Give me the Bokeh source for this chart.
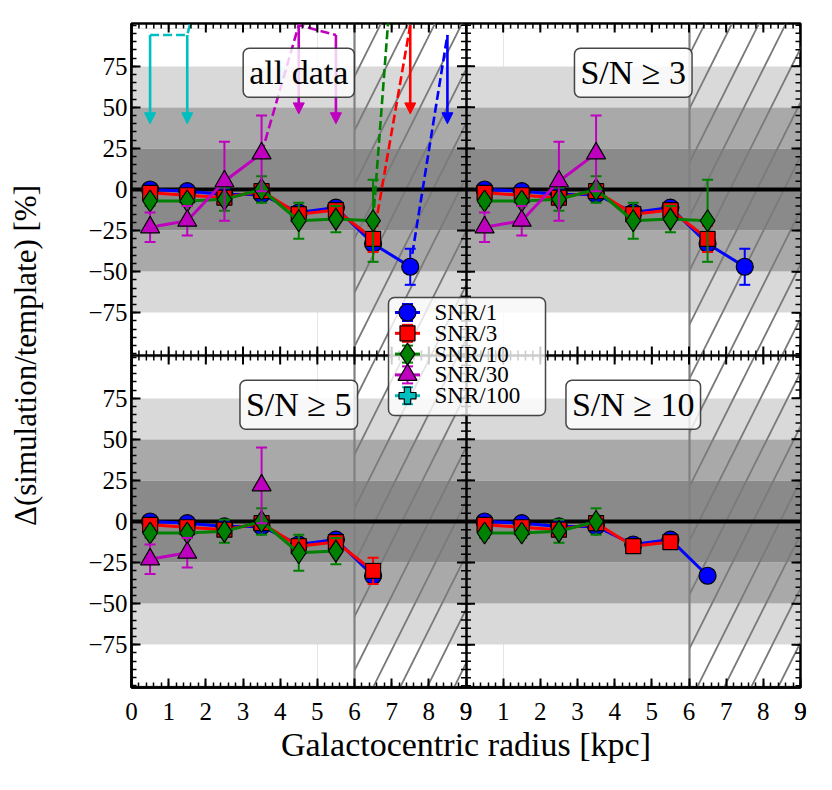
import math
from bokeh.plotting import figure
from bokeh.models import (Range1d, FixedTicker, LinearAxis, Label, Arrow, NormalHead)
from bokeh.core.properties import value
from bokeh.embed import file_html
from bokeh.resources import INLINE

NAN = float("nan")

# ---------------- data ----------------
R_BINS = [0.5, 1.5, 2.5, 3.5, 4.5, 5.5, 6.5, 7.5]

SNR1 = [0, -1, -3, -3, -14, -11, -33, -47]
SNR1_ERR = [2, 2, 2, 3, 3, 3, 3, 11]
SNR3 = [-2, -3.5, -5, -1, -15, -12.5, -30]
SNR3_ERR = [2, 2, 2, 2, 3, 3, 8]
SNR10 = [-7, -7, -6, 0, -19, -18, -19]
SNR10_ERR = [3, 3, 7, 8, 11, 8, 25]
SNR30 = [-23, -19, 5, 22]
SNR30_ERR = [9, 9, 24, 23]
SNR100 = []
SNR100_ERR = []

PANEL_TITLES = ["all data", "S/N \u2265 3", "S/N \u2265 5", "S/N \u2265 10"]

# indices of the radial bins shown in each panel
SHOWN_SNR1 = [[0, 1, 2, 3, 4, 5, 6, 7], [0, 1, 2, 3, 4, 5, 6, 7], [0, 1, 2, 3, 4, 5, 6], [0, 1, 2, 3, 4, 5, 6]]
SHOWN_SNR3 = [[0, 1, 2, 3, 4, 5, 6], [0, 1, 2, 3, 4, 5, 6], [0, 1, 2, 3, 4, 5, 6], [0, 1, 2, 3, 4, 5]]
SHOWN_SNR10 = [[0, 1, 2, 3, 4, 5, 6], [0, 1, 2, 3, 4, 5, 6], [0, 1, 2, 3, 4, 5], [0, 1, 2, 3]]
SHOWN_SNR30 = [[0, 1, 2, 3], [0, 1, 2, 3], [0, 1, 3], []]
SHOWN_SNR100 = [[], [], [], []]

# off-scale values in the "all data" panel (dashed continuation + arrows)
LIM_R_SNR1, LIM_V_SNR1 = [8.5], [94]
LIM_R_SNR3, LIM_V_SNR3 = [7.5], [100]
LIM_R_SNR10, LIM_V_SNR10 = [7.5], [280]
LIM_R_SNR30, LIM_V_SNR30 = [4.5, 5.5], [100, 94]
LIM_R_SNR100, LIM_V_SNR100 = [0.5, 1.5, 2.5], [94, 94, 180]

BAND_LIGHT = [(50, 75), (-75, -50)]
BAND_MID = [(25, 50), (-50, -25)]
BAND_DARK = [(-25, 25)]
HATCH_FROM = 6.0

X_TICKS = list(range(0, 10))
Y_TICKS = [-75, -50, -25, 0, 25, 50, 75]

# ---------------- layout constants ----------------
XW = 9.0       # width of a panel in kpc
YH = 202.0     # height of a panel in %
YLIM = 101.0
FONT = "Liberation Serif"
FW, FH = 669, 664   # frame size in px


def offs(k):
    col, row = k % 2, k // 2
    return XW * col, YH * (1 - row)


def px2x(px):      # frame-relative px (from left) -> data x
    return px * (2 * XW) / FW


def px2y(px):      # frame-relative px (from top) -> data y
    return (YH + YLIM) - px * (YH + 2 * YLIM) / FH


SERIES = [
    ("SNR/1", SNR1, SNR1_ERR, SHOWN_SNR1, LIM_R_SNR1, LIM_V_SNR1, "#0000ff", "circle", 17),
    ("SNR/3", SNR3, SNR3_ERR, SHOWN_SNR3, LIM_R_SNR3, LIM_V_SNR3, "#ff0000", "square", 15),
    ("SNR/10", SNR10, SNR10_ERR, SHOWN_SNR10, LIM_R_SNR10, LIM_V_SNR10, "#008000", "diamond", 22),
    ("SNR/30", SNR30, SNR30_ERR, SHOWN_SNR30, LIM_R_SNR30, LIM_V_SNR30, "#bf00bf", "triangle", 19),
    ("SNR/100", SNR100, SNR100_ERR, SHOWN_SNR100, LIM_R_SNR100, LIM_V_SNR100, "#00bfbf", "plus", 17),
]

p = figure(frame_width=FW, frame_height=FH,
           x_range=Range1d(0, 2 * XW), y_range=Range1d(-YLIM, YH + YLIM),
           x_axis_location=None, y_axis_location=None,
           output_backend="svg", toolbar_location=None,
           min_border_left=131, min_border_right=22, min_border_top=23, min_border_bottom=80,
           background_fill_color="white", border_fill_color="white")
p.outline_line_color = "black"
p.outline_line_width = 2.5
p.outline_line_alpha = 1.0

# ---------------- backgrounds ----------------
for bands, col in ((BAND_LIGHT, "#d9d9d9"), (BAND_MID, "#a9a9a9"), (BAND_DARK, "#8a8a8a")):
    y0 = [a + YH * r for r in (0, 1) for a, b in bands]
    y1 = [b + YH * r for r in (0, 1) for a, b in bands]
    p.hstrip(y0=y0, y1=y1, fill_color=col, line_color=None)

p.vstrip(x0=[HATCH_FROM, HATCH_FROM + XW], x1=[XW, 2 * XW], fill_color=None, line_color=None,
         hatch_pattern="/", hatch_color="#7a7a7a", hatch_weight=1.8, hatch_scale=54, hatch_alpha=1.0)
p.vspan(x=[HATCH_FROM, HATCH_FROM + XW], line_color="#808080", line_width=2.2)
p.hspan(y=[0, YH], line_color="black", line_width=4)

# ---------------- data ----------------
arrows = []
for name, vals, errs, shown, lim_r, lim_v, color, marker, msize in SERIES:
    xs, ys = [], []
    ex, ey0, ey1 = [], [], []
    for k in range(4):
        xo, yo = offs(k)
        for i in range(len(vals)):
            if i in shown[k]:
                x, y = R_BINS[i] + xo, vals[i] + yo
                xs.append(x); ys.append(y)
                ex.append(x); ey0.append(y - errs[i]); ey1.append(y + errs[i])
            else:
                xs.append(NAN); ys.append(NAN)
        xs.append(NAN); ys.append(NAN)
    # dashed continuation in "all data" panel
    xo, yo = offs(0)
    dx, dy = [], []
    if shown[0]:
        last = shown[0][-1]
        dx.append(R_BINS[last] + xo); dy.append(vals[last] + yo)
    for r, v in zip(lim_r, lim_v):
        dx.append(r + xo); dy.append(v + yo)
        if v <= YLIM:
            arrows.append((r + xo, v + yo, v + yo - 54, color))
    p.line(dx, dy, line_color=color, line_width=2.6, line_dash="9 4")
    if ex:
        p.line(xs, ys, line_color=color, line_width=3)
        p.segment(x0=ex, y0=ey0, x1=ex, y1=ey1, line_color=color, line_width=2)
        p.scatter(ex + ex, ey0 + ey1, marker="dash", size=11, line_color=color, line_width=2)
        p.scatter(ex, [(a + b) / 2 for a, b in zip(ey0, ey1)], marker=marker, size=msize,
                  fill_color=color, line_color="black", line_width=1.2)

for x, y0, y1, color in arrows:
    p.add_layout(Arrow(x_start=x, y_start=y0, x_end=x, y_end=y1, line_color=color, line_width=2.6,
                       end=NormalHead(size=11, fill_color=color, line_color=color)))

# panel dividers
p.vspan(x=[XW], line_color="black", line_width=2.5)
p.hspan(y=[YLIM], line_color="black", line_width=2.5)

# ---------------- ticks ----------------
xmaj = [t + XW * c for c in (0, 1) for t in X_TICKS] + [2 * XW]
xmin = [round(i * 0.2, 1) for i in range(int(2 * XW / 0.2) + 1)]
ymaj = [t + YH * r for r in (0, 1) for t in Y_TICKS]
ymin = [v + YH * r for r in (0, 1) for v in range(-100, 101, 5)]


def fmt(v):
    return ("\u2212%d" % -v) if v < 0 else "%d" % v


xover = {}
for c in (0, 1):
    for t in X_TICKS + [9]:
        xover[t + XW * c] = str(t if not (c == 1 and t == 0) else 9)
yover = {t + YH * r: fmt(t) for r in (0, 1) for t in Y_TICKS}


def axis(ticks, minor, overrides, title, label_standoff, title_standoff, title_size):
    ax = LinearAxis(ticker=FixedTicker(ticks=ticks, minor_ticks=minor))
    ax.major_tick_in = 9
    ax.major_tick_out = 0
    ax.minor_tick_in = 5
    ax.minor_tick_out = 0
    ax.major_tick_line_width = 2
    ax.minor_tick_line_width = 1.5
    ax.axis_line_width = 2.5
    ax.axis_line_color = "black"
    ax.major_tick_line_color = "black"
    ax.minor_tick_line_color = "black"
    ax.major_label_overrides = overrides
    ax.major_label_text_font = FONT
    ax.major_label_text_font_size = "25px"
    ax.major_label_text_color = "black"
    ax.major_label_standoff = label_standoff
    ax.axis_label = title
    ax.axis_label_text_font = FONT
    ax.axis_label_text_font_size = title_size
    ax.axis_label_text_font_style = "normal"
    ax.axis_label_text_color = "black"
    ax.axis_label_standoff = title_standoff
    return ax


p.add_layout(axis(xmaj, xmin, xover, "Galactocentric radius [kpc]", 15, 3, "34px"), "below")
p.add_layout(axis(ymaj, ymin, yover, "\u0394(simulation/template) [%]", 4, 42, "31px"), "left")

# ticks on the top / right edges and along the inner dividers (half outside is clipped)
TOP, RIGHT = YH + YLIM, 2 * XW
for xpos in (XW, RIGHT):
    p.scatter([xpos] * len(ymaj), ymaj, marker="dash", size=18, line_color="black", line_width=2)
    p.scatter([xpos] * len(ymin), ymin, marker="dash", size=10, line_color="black", line_width=1.5)
for ypos in (YLIM, TOP):
    p.scatter(xmaj, [ypos] * len(xmaj), marker="dash", angle=math.pi / 2, size=18,
              line_color="black", line_width=2)
    p.scatter(xmin, [ypos] * len(xmin), marker="dash", angle=math.pi / 2, size=10,
              line_color="black", line_width=1.5)

# panel titles
for k, title in enumerate(PANEL_TITLES):
    xo, yo = offs(k)
    p.add_layout(Label(x=4.5 + xo, y=71 + yo, text=title, text_align="center", text_baseline="middle",
                       text_font=FONT, text_font_size="34px", text_color="black",
                       background_fill_color="white", background_fill_alpha=0.8,
                       border_line_color="#333333", border_line_width=1.5, border_line_alpha=0.9,
                       border_radius=6, padding=6))

# ---------------- legend (drawn as glyphs so the markers keep their size) ----------------
LEG_LEFT, LEG_TOP, LEG_W, LEG_H = 257, 274, 157, 118   # px, frame-relative
ROW0, ROW_STEP, MARK_DX, TEXT_DX, LINE_HALF, CAP_DY = 15, 20.8, 19, 46, 12.5, 8.5

p.quad(left=[px2x(LEG_LEFT)], right=[px2x(LEG_LEFT + LEG_W)],
       top=[px2y(LEG_TOP)], bottom=[px2y(LEG_TOP + LEG_H)],
       fill_color="white", fill_alpha=0.8, line_color="#333333", line_width=1.5,
       line_alpha=0.9, border_radius=6)
for j, (name, vals, errs, shown, lim_r, lim_v, color, marker, msize) in enumerate(SERIES):
    ry = LEG_TOP + ROW0 + ROW_STEP * j
    cx = LEG_LEFT + MARK_DX
    p.segment(x0=[px2x(cx - LINE_HALF)], y0=[px2y(ry)], x1=[px2x(cx + LINE_HALF)], y1=[px2y(ry)],
              line_color=color, line_width=3)
    p.segment(x0=[px2x(cx)], y0=[px2y(ry - CAP_DY)], x1=[px2x(cx)], y1=[px2y(ry + CAP_DY)],
              line_color=color, line_width=2)
    p.scatter([px2x(cx)] * 2, [px2y(ry - CAP_DY), px2y(ry + CAP_DY)], marker="dash", size=11,
              line_color=color, line_width=2)
    p.scatter([px2x(cx)], [px2y(ry)], marker=marker, size=msize, fill_color=color,
              line_color="black", line_width=1.2)
    p.text([px2x(LEG_LEFT + TEXT_DX)], [px2y(ry)], text=[name], text_font=value(FONT),
           text_font_size="23px", text_baseline="middle", text_align="left", text_color="black")

open("out.html", "w").write(file_html(p, INLINE))
